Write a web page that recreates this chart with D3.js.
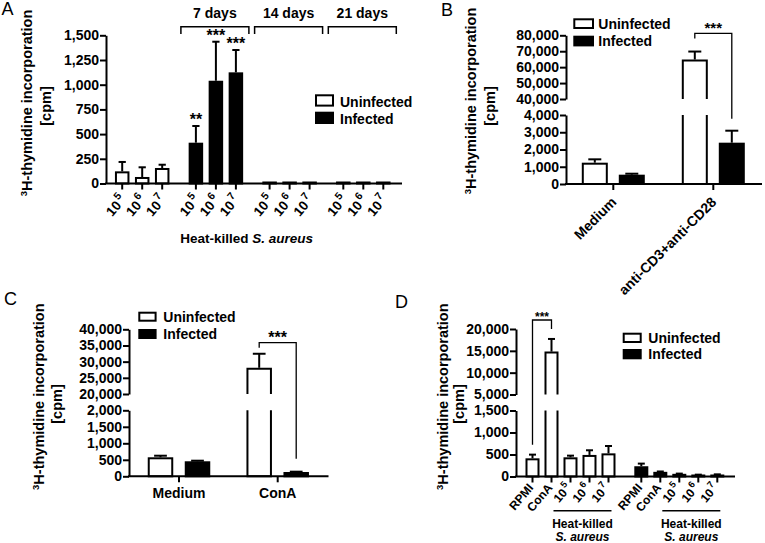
<!DOCTYPE html>
<html><head><meta charset="utf-8">
<script src="https://cdn.jsdelivr.net/npm/d3@7"></script>
<style>
body{margin:0;background:#fff;}
svg{display:block;font-family:"Liberation Sans",Arial,Helvetica,sans-serif;}
</style></head><body>
<svg id="c" width="765" height="543"></svg>
<script>
// ================= DATA =================
const legendLabels = ["Uninfected", "Infected"];
const yLabelSup = "3";
const yLabelMain = "H-thymidine incorporation";
const yLabelUnit = "[cpm]";
const stimLabel = "Heat-killed";
const stimSpecies = "S. aureus";

// Panel A
const aGroups = ["Uninfected", "7 days", "14 days", "21 days"];
const aBracketLabels = ["7 days", "14 days", "21 days"];
const aDoses = ["10^5", "10^6", "10^7"];
const aUninfMean = [123, 66, 157];
const aUninfSem = [95, 98, 33];
const aInf7Mean = [413, 1040, 1125];
const aInf7Sem = [169, 395, 226];
const aInf14Mean = [10, 10, 10];
const aInf21Mean = [10, 10, 10];
const aSig7 = ["**", "***", "***"];
const aTicks = [0, 250, 500, 750, 1000, 1250, 1500];

// Panel B
const bCats = ["Medium", "anti-CD3+anti-CD28"];
const bUninfMean = [1235, 64800];
const bUninfSem = [195, 5000];
const bInfMean = [540, 2395];
const bInfSem = [57, 695];
const bTicksLow = [0, 1000, 2000, 3000, 4000];
const bTicksHigh = [40000, 50000, 60000, 70000, 80000];
const bSig = "***";

// Panel C
const cCats = ["Medium", "ConA"];
const cUninfMean = [576, 28100];
const cUninfSem = [48, 4340];
const cInfMean = [455, 130];
const cInfSem = [18, 10];
const cTicksLow = [0, 500, 1000, 1500, 2000];
const cTicksHigh = [20000, 25000, 30000, 35000, 40000];
const cSig = "***";

// Panel D
const dGroups = ["Uninfected", "Infected"];
const dCats = ["RPMI", "ConA", "10^5", "10^6", "10^7"];
const dUninfMean = [413, 14820, 436, 490, 526];
const dUninfSem = [84, 2900, 38, 106, 167];
const dInfMean = [233, 106, 61, 38, 45];
const dInfSem = [60, 8, 5, 4, 4];
const dTicksLow = [0, 500, 1000, 1500];
const dTicksHigh = [5000, 10000, 15000, 20000];
const dSig = "***";

// ================= DRAWING =================
const svg = d3.select("#c");
svg.append("rect").attr("width", 765).attr("height", 543).attr("fill", "#fff");
const fmt = d3.format(",");

function brokenScale(lowDom, lowRange, highDom, highRange) {
  const lo = d3.scaleLinear().domain(lowDom).range(lowRange);
  const hi = d3.scaleLinear().domain(highDom).range(highRange);
  const f = v => (v <= lowDom[1] ? lo(v) : hi(v));
  f.lo = lo; f.hi = hi; f.broken = true; f.lowMax = lowDom[1];
  return f;
}

function yAxis(x, scale, ticks) {
  const g = svg.append("g").attr("transform", `translate(${x},0)`)
    .call(d3.axisLeft(scale).tickValues(ticks).tickFormat(fmt).tickSize(6).tickSizeOuter(0).tickPadding(1));
  g.select(".domain").attr("stroke", "#000").attr("stroke-width", 2);
  g.selectAll(".tick line").attr("stroke", "#000").attr("stroke-width", 2);
  g.selectAll(".tick text").attr("fill", "#000").style("font-size", "14px").style("font-weight", "bold")
    .style("font-family", '"Liberation Sans",Arial,sans-serif');
  return g;
}

function xAxisLine(x1, x2, y, tickXs) {
  svg.append("line").attr("x1", x1 - 1).attr("x2", x2).attr("y1", y).attr("y2", y)
    .attr("stroke", "#000").attr("stroke-width", 2);
  tickXs.forEach(tx => svg.append("line").attr("x1", tx).attr("x2", tx).attr("y1", y).attr("y2", y + 6)
    .attr("stroke", "#000").attr("stroke-width", 2));
}

function bar(x, w, v, sem, y, fill) {
  const y0 = y.broken ? y.lo(0) : y(0);
  const x0 = x + 1, x1 = x + w - 1;
  if (y.broken && v > y.lowMax) {
    const lowTop = y.lo(y.lowMax), upBot = y.hi.range()[0];
    svg.append("path").attr("d", `M${x0},${lowTop}L${x0},${y0}L${x1},${y0}L${x1},${lowTop}`)
      .attr("fill", fill).attr("stroke", "#000").attr("stroke-width", 2);
    svg.append("path").attr("d", `M${x0},${upBot}L${x0},${y(v) + 1}L${x1},${y(v) + 1}L${x1},${upBot}`)
      .attr("fill", fill).attr("stroke", "#000").attr("stroke-width", 2);
  } else {
    const top = y(v) + 1;
    svg.append("rect").attr("x", x0).attr("width", x1 - x0).attr("y", Math.min(top, y0 - 1))
      .attr("height", Math.max(1, y0 - top)).attr("fill", fill).attr("stroke", "#000").attr("stroke-width", 2);
  }
  if (sem) {
    const cx = x + w / 2, ye = y(v + sem);
    svg.append("line").attr("x1", cx).attr("x2", cx).attr("y1", y(v)).attr("y2", ye)
      .attr("stroke", "#000").attr("stroke-width", 2);
    svg.append("line").attr("x1", cx - w / 4).attr("x2", cx + w / 4).attr("y1", ye).attr("y2", ye)
      .attr("stroke", "#000").attr("stroke-width", 2);
  }
}

function yTitle(x1, cy1, x2, cy2) {
  const t = svg.append("text").attr("transform", `translate(${x1},${cy1}) rotate(-90)`)
    .attr("text-anchor", "middle").style("font-size", "14.5px").style("font-weight", "bold");
  t.append("tspan").text(yLabelSup).style("font-size", "9.5px").attr("dy", -5);
  t.append("tspan").text(yLabelMain).attr("dy", 5);
  svg.append("text").attr("transform", `translate(${x2},${cy2}) rotate(-90)`)
    .attr("text-anchor", "middle").style("font-size", "14.5px").style("font-weight", "bold").text(yLabelUnit);
}

function legend(x, ys, bw, bh, tx, tys) {
  legendLabels.forEach((lab, i) => {
    svg.append("rect").attr("x", x + 1).attr("y", ys[i] + 1).attr("width", bw - 2).attr("height", bh - 2)
      .attr("fill", i === 0 ? "#fff" : "#000").attr("stroke", "#000").attr("stroke-width", 2);
    svg.append("text").attr("x", tx).attr("y", tys[i]).style("font-size", "14px").style("font-weight", "bold").text(lab);
  });
}

function rotLabel(ax, ay, label, size, angle) {
  const t = svg.append("text").attr("transform", `translate(${ax},${ay}) rotate(${angle})`)
    .attr("text-anchor", "end").style("font-size", size + "px").style("font-weight", "bold");
  if (label.includes("^")) {
    const [base, exp] = label.split("^");
    t.append("tspan").text(base);
    t.append("tspan").text(exp).attr("dx", 1.5).attr("dy", -size * 0.45).style("font-size", (size * 0.78) + "px");
  } else t.text(label);
}

function sigText(x, y, s, size) {
  svg.append("text").attr("x", x).attr("y", y).attr("text-anchor", "middle")
    .style("font-size", size + "px").style("font-weight", "bold").text(s);
}

function sigBracket(xl, xr, yTop, ylb, yrb) {
  svg.append("path").attr("d", `M${xl},${ylb}L${xl},${yTop}L${xr},${yTop}L${xr},${yrb}`)
    .attr("fill", "none").attr("stroke", "#000").attr("stroke-width", 1.3);
}

function panelLetter(x, y, s) {
  svg.append("text").attr("x", x).attr("y", y).style("font-size", "18px").text(s);
}

// ---------- Panel A ----------
{
  const yA = d3.scaleLinear().domain([0, 1500]).range([183.5, 35.3]);
  const xG = d3.scaleBand().domain(aGroups).range([112.2, 393.3]).paddingInner(0.186).paddingOuter(0);
  const xI = d3.scaleBand().domain(aDoses).range([0, xG.bandwidth()]).paddingInner(0.275).paddingOuter(0.1375);
  const series = [
    [aGroups[0], aUninfMean, aUninfSem, "#fff"],
    [aGroups[1], aInf7Mean, aInf7Sem, "#000"],
    [aGroups[2], aInf14Mean, null, "#000"],
    [aGroups[3], aInf21Mean, null, "#000"]
  ];
  const tickXs = [];
  series.forEach(([g, means, sems, fill]) => {
    aDoses.forEach((d, i) => {
      const bx = xG(g) + xI(d);
      bar(bx, xI.bandwidth(), means[i], sems ? sems[i] : 0, yA, fill);
      const cx = bx + xI.bandwidth() / 2;
      tickXs.push(cx);
      rotLabel(cx + 4.5, 200, d, 13.5, -50);
    });
  });
  aDoses.forEach((d, i) => {
    const cx = xG(aGroups[1]) + xI(d) + xI.bandwidth() / 2;
    sigText(cx, yA(aInf7Mean[i] + aInf7Sem[i]) - 1, aSig7[i], 16);
  });
  xAxisLine(106, 402, 183.5, tickXs);
  yAxis(106, yA, aTicks);
  aBracketLabels.forEach(g => {
    const x1 = xG(g) - 5, x2 = xG(g) + xG.bandwidth() + 3;
    svg.append("path").attr("d", `M${x1},34L${x1},26.7L${x2},26.7L${x2},34`)
      .attr("fill", "none").attr("stroke", "#000").attr("stroke-width", 1.5);
    svg.append("text").attr("x", (x1 + x2) / 2).attr("y", 17.5).attr("text-anchor", "middle")
      .style("font-size", "14px").style("font-weight", "bold").text(g);
  });
  const ht = svg.append("text").attr("x", 246.7).attr("y", 243).attr("text-anchor", "middle")
    .style("font-size", "13.5px").style("font-weight", "bold");
  ht.append("tspan").text(stimLabel + " ");
  ht.append("tspan").text(stimSpecies).style("font-style", "italic");
  legend(315, [94.3, 111.7], 19, 12.3, 340, [106.7, 124]);
  yTitle(32, 103, 51, 106);
  panelLetter(1.5, 15, "A");
}

// ---------- Panel B ----------
{
  const yB = brokenScale([0, 4000], [184, 115], [40000, 80000], [99, 35.3]);
  const xC = d3.scaleBand().domain(bCats).range([563.3, 763.3]);
  const xI = d3.scaleBand().domain(legendLabels).range([0, xC.bandwidth()]).paddingInner(0.297).paddingOuter(0.5);
  bCats.forEach((c, i) => {
    bar(xC(c) + xI("Uninfected"), xI.bandwidth(), bUninfMean[i], bUninfSem[i], yB, "#fff");
    bar(xC(c) + xI("Infected"), xI.bandwidth(), bInfMean[i], bInfSem[i], yB, "#000");
  });
  const ticks = bCats.map(c => xC(c) + xC.bandwidth() / 2);
  xAxisLine(566, 762, 184, ticks);
  yAxis(566, yB.lo, bTicksLow);
  yAxis(566, yB.hi, bTicksHigh);
  bCats.forEach((c, i) => rotLabel(ticks[i] + 4, 203, c, 14, -45));
  const xl = xC(bCats[1]) + xI("Uninfected") + xI.bandwidth() / 2;
  const xr = xC(bCats[1]) + xI("Infected") + xI.bandwidth() / 2;
  sigBracket(xl, xr, 33.3, yB(bUninfMean[1] + bUninfSem[1]) - 13, yB(bInfMean[1] + bInfSem[1]) - 12);
  sigText((xl + xr) / 2, 33, bSig, 15);
  legend(573.3, [18.3, 35.7], 20.7, 10.7, 598.3, [29, 46]);
  yTitle(476, 101, 495, 106);
  panelLetter(441, 16, "B");
}

// ---------- Panel C ----------
{
  const yC = brokenScale([0, 2000], [476.3, 410.3], [20000, 40000], [394, 329.3]);
  const xC = d3.scaleBand().domain(cCats).range([129.65, 327.05]);
  const xI = d3.scaleBand().domain(legendLabels).range([0, xC.bandwidth()]).paddingInner(0.311).paddingOuter(0.489);
  cCats.forEach((c, i) => {
    bar(xC(c) + xI("Uninfected"), xI.bandwidth(), cUninfMean[i], cUninfSem[i], yC, "#fff");
    bar(xC(c) + xI("Infected"), xI.bandwidth(), cInfMean[i], cInfSem[i], yC, "#000");
  });
  const ticks = cCats.map(c => xC(c) + xC.bandwidth() / 2);
  xAxisLine(129, 328.5, 476.3, ticks);
  yAxis(129, yC.lo, cTicksLow);
  yAxis(129, yC.hi, cTicksHigh);
  cCats.forEach((c, i) => svg.append("text").attr("x", ticks[i]).attr("y", 498).attr("text-anchor", "middle")
    .style("font-size", "14px").style("font-weight", "bold").text(c));
  const xl = xC(cCats[1]) + xI("Uninfected") + xI.bandwidth() / 2;
  const xr = xC(cCats[1]) + xI("Infected") + xI.bandwidth() / 2;
  sigBracket(xl, xr, 342.7, yC(cUninfMean[1] + cUninfSem[1]) - 6, yC(cInfMean[1] + cInfSem[1]) - 13);
  sigText((xl + xr) / 2, 343, cSig, 16);
  legend(138.3, [311.7, 329], 18.3, 10, 163.3, [321.7, 339]);
  yTitle(44, 396.7, 62, 404);
  panelLetter(4, 305, "C");
}

// ---------- Panel D ----------
{
  const yD = brokenScale([0, 1500], [476.5, 410.5], [5000, 20000], [394.5, 329]);
  const xG = d3.scaleBand().domain(dGroups).range([523, 726.8]).paddingInner(0.127).paddingOuter(0);
  const xI = d3.scaleBand().domain(dCats).range([0, xG.bandwidth()]).paddingInner(0.263).paddingOuter(0.1315);
  const series = [[dGroups[0], dUninfMean, dUninfSem, "#fff"], [dGroups[1], dInfMean, dInfSem, "#000"]];
  const tickXs = [];
  series.forEach(([g, means, sems, fill]) => {
    dCats.forEach((c, i) => {
      const bx = xG(g) + xI(c);
      bar(bx, xI.bandwidth(), means[i], sems[i], yD, fill);
      const cx = bx + xI.bandwidth() / 2;
      tickXs.push(cx);
      rotLabel(cx + 1.5, 488, c, 12, -50);
    });
    // heat-killed underline + label
    const c5 = xG(g) + xI(dCats[2]) + xI.bandwidth() / 2;
    const c7 = xG(g) + xI(dCats[4]) + xI.bandwidth() / 2;
    const lx1 = c5 - 17, lx2 = c7 + 3, mid = (lx1 + lx2) / 2;
    svg.append("line").attr("x1", lx1).attr("x2", lx2).attr("y1", 510.7).attr("y2", 510.7)
      .attr("stroke", "#000").attr("stroke-width", 1.5);
    svg.append("text").attr("x", mid).attr("y", 527.5).attr("text-anchor", "middle")
      .style("font-size", "12px").style("font-weight", "bold").text(stimLabel);
    svg.append("text").attr("x", mid).attr("y", 540.5).attr("text-anchor", "middle")
      .style("font-size", "12px").style("font-weight", "bold").style("font-style", "italic").text(stimSpecies);
  });
  xAxisLine(516, 735, 476.5, tickXs);
  yAxis(516, yD.lo, dTicksLow);
  yAxis(516, yD.hi, dTicksHigh);
  const xl = xG(dGroups[0]) + xI(dCats[0]) + xI.bandwidth() / 2;
  const xr = xG(dGroups[0]) + xI(dCats[1]) + xI.bandwidth() / 2;
  sigBracket(xl, xr, 320, yD(dUninfMean[0] + dUninfSem[0]) - 10, yD(dUninfMean[1] + dUninfSem[1]) - 10);
  sigText((xl + xr) / 2, 321, dSig, 12);
  legend(622.7, [332.7, 349], 19, 10.3, 648.3, [342.7, 359.3]);
  yTitle(448, 396.7, 464, 404);
  panelLetter(395, 308, "D");
}
</script>
</body></html>
